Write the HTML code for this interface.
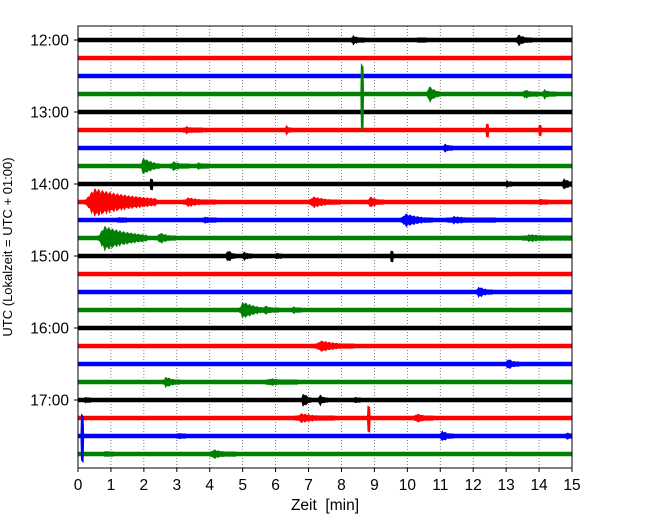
<!DOCTYPE html>
<html><head><meta charset="utf-8"><style>
body{margin:0;background:#fff}
svg text{font-family:"Liberation Sans","DejaVu Sans",sans-serif;fill:#000}
</style></head><body>
<svg id="c" width="650" height="520" xmlns="http://www.w3.org/2000/svg">
<defs><clipPath id="pc"><rect x="78" y="26" width="494" height="442"/></clipPath></defs>
<g id="plot" clip-path="url(#pc)"></g>
</svg>
<script>
const hourLabels=["12:00","13:00","14:00","15:00","16:00","17:00"];
const xTicks=[0,1,2,3,4,5,6,7,8,9,10,11,12,13,14,15];
const traceColors=["#000000","#ff0000","#0000ff","#008000"];
const traceCount=24;
// events: [trace, minute, amplitude(px), duration(min)]
const evTrace=[0,0,0,3,3,3,3,5,5,5,5,6,7,7,7,8,8,8,9,9,9,9,9,10,10,10,10,11,11,11,12,12,12,12,14,15,15,15,17,18,19,19,20,20,20,20,21,21,21,22,22,22,22,23,23];
const evMin=[8.3,13.3,10.3,8.6,10.6,13.5,14.1,3.2,6.3,12.4,14.0,11.1,1.9,2.8,3.6,2.2,13.0,14.7,0.2,3.2,7.0,8.8,14.0,9.8,11.2,3.8,1.2,0.6,2.4,13.5,4.5,5.0,6.0,9.5,12.1,4.9,5.6,6.5,7.2,13.0,2.6,5.7,6.8,7.3,8.4,0.2,6.6,8.8,10.2,0.1,3.0,11.0,14.8,0.8,4.0];
const evAmp=[5,6,3,30,9,5,5,4,5,6,5,5,9,5,4,5,4,6,15,5,6,6,4,7,4,4,3,13,6,4,7,5,4,5,6,9,5,4,6,6,6,4,8,6,4,3,5,12,5,22,4,6,4,4,5];
const evDur=[0.4,0.5,0.3,0.15,0.4,0.5,0.4,0.6,0.2,0.1,0.1,0.3,0.6,0.6,0.4,0.1,0.2,0.4,2.2,1.0,1.0,0.5,0.3,1.0,1.5,0.4,0.3,1.5,0.6,1.5,0.3,0.3,0.2,0.1,0.5,0.8,0.5,0.3,1.2,0.4,0.5,1.0,0.3,0.3,0.2,0.2,1.2,0.1,0.6,0.1,0.3,0.4,0.3,0.3,0.8];

const L=78,R=572,T=26,B=468,y0=40,dy=18;
const xs=m=>L+(R-L)*m/15;
const ys=i=>y0+i*dy;
const svg=document.getElementById('c');
const plot=document.getElementById('plot');
const NS='http://www.w3.org/2000/svg';
function mk(t,a,p){const e=document.createElementNS(NS,t);for(const k in a)e.setAttribute(k,a[k]);(p||svg).appendChild(e);return e;}

xTicks.forEach(t=>{
 if(t>0&&t<15){const g=mk('line',{x1:xs(t),x2:xs(t),y1:T,y2:B,stroke:'#555','stroke-width':0.8,'stroke-dasharray':'1,2'},plot);
 
 }
});
for(let i=0;i<traceCount;i++){
 const c=traceColors[i%4];
 const l=mk('line',{x1:L,x2:R,y1:ys(i),y2:ys(i),stroke:c,'stroke-width':4.5},plot);
 
 
}
for(let k=0;k<evTrace.length;k++){
 const i=evTrace[k],c=traceColors[i%4],y=ys(i);
 const x0=xs(evMin[k]);
 let top=[],bot=[];
 if(evDur[k]<=0.15){
  const a=evAmp[k];
  top=[[x0-0.5,y-2],[x0,y-a],[x0+2,y-a*0.9],[x0+2.5,y-2]];
  bot=[[x0+2.5,y+2],[x0+2,y+a*1.2],[x0,y+a*1.1],[x0-0.5,y+2]];
 } else {
  const w=Math.max(4,xs(evDur[k])-L);
  for(let p=0;p<=w;p+=1){
   const u=p/w;
   const env=Math.min(1,u*7)*Math.exp(-1.6*u);
   const j=0.7+0.45*Math.abs(Math.sin(p*2.3+k*1.1));
   const a=Math.max(2.2,evAmp[k]*env*j);
   top.push([x0+p,y-a]);
   bot.unshift([x0+p,y+a*(0.85+0.3*Math.abs(Math.cos(p*1.9+k)))]);
  }
 }
 const pts=top.concat(bot).map(q=>q[0].toFixed(1)+','+q[1].toFixed(1)).join(' ');
 const pl=mk('polygon',{points:pts,fill:c,stroke:c,'stroke-width':0.6},plot);
 
 
}
const f=mk('rect',{x:L,y:T,width:R-L,height:B-T,fill:'none',stroke:'#000','stroke-width':1});


xTicks.forEach(t=>{
 mk('line',{x1:xs(t),x2:xs(t),y1:B,y2:B+4,stroke:'#000'});
 const tx=mk('text',{x:xs(t),y:B+22,'font-size':15.5,'text-anchor':'middle'});tx.textContent=t;
 
 
});
hourLabels.forEach((h,j)=>{
 const y=ys(j*4);
 mk('line',{x1:L-4,x2:L,y1:y,y2:y,stroke:'#000'});
 const tx=mk('text',{x:L-9,y:y+5.5,'font-size':15.5,'text-anchor':'end'});tx.textContent=h;
 
 
});
const xl=mk('text',{x:325,y:510,'font-size':15.5,'text-anchor':'middle'});xl.textContent='Zeit\u00a0 [min]';


const yl=mk('text',{x:12,y:247,'font-size':13,'text-anchor':'middle',transform:'rotate(-90 12 247)'});yl.textContent='UTC (Lokalzeit = UTC + 01:00)';


</script>
</body></html>
